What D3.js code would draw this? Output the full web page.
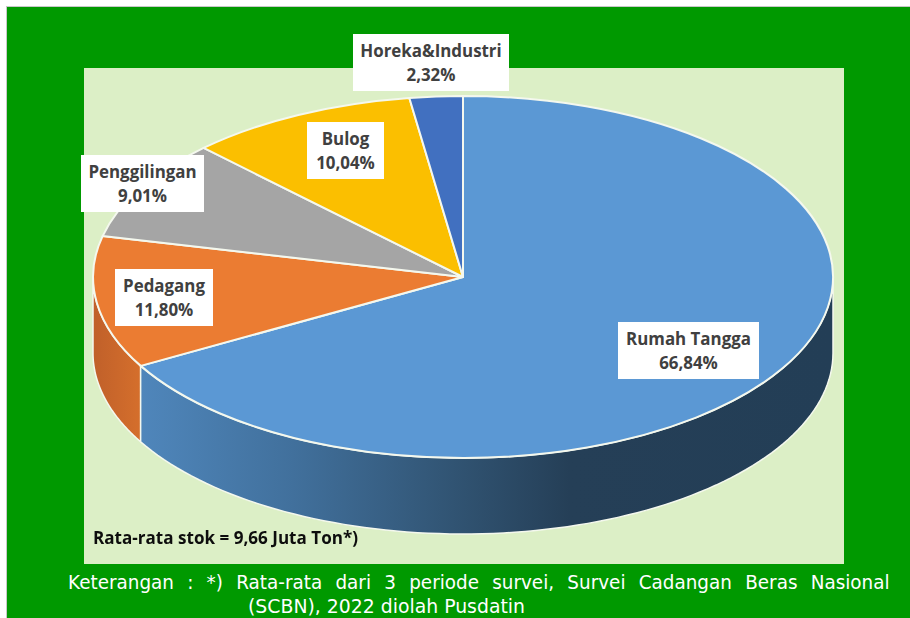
<!DOCTYPE html>
<html>
<head>
<meta charset="utf-8">
<script src="https://cdnjs.cloudflare.com/ajax/libs/d3/7.8.5/d3.min.js"></script>
<style>
html,body{margin:0;padding:0;background:#fff;overflow:hidden}
svg{display:block}
</style>
</head>
<body>
<script>
const categories = ["Rumah Tangga", "Pedagang", "Penggilingan", "Bulog", "Horeka&Industri"];
const shares = [66.84, 11.80, 9.01, 10.04, 2.32];
const shareLabels = ["66,84%", "11,80%", "9,01%", "10,04%", "2,32%"];
const sliceColors = ["#5b98d4", "#eb7c32", "#a5a5a5", "#fbbf00", "#4170c0"];
const stockNote = "Rata-rata stok = 9,66 Juta Ton*)";
const footnoteLine1 = "Keterangan : *) Rata-rata dari 3 periode survei, Survei Cadangan Beras Nasional";
const footnoteLine2 = "(SCBN), 2022 diolah Pusdatin";

const W = 910, H = 618;
const cx = 463, cy = 277, rx = 370, ry = 181, depth = 76;
// label box layout: [left, top, width]; box height is shared
const labelBoxes = [[618,322,141],[115,269,98],[81,155,123],[307,122,77],[353,34,156]];
const boxH = 57;

const svg = d3.select("body").append("svg").attr("width", W).attr("height", H);
const defs = svg.append("defs");

const blueGrad = defs.append("linearGradient").attr("id","sideBlue")
  .attr("gradientUnits","userSpaceOnUse").attr("x1",141).attr("x2",833).attr("y1",0).attr("y2",0);
[[0,"#4f86bb"],[0.22,"#41709c"],[0.45,"#315473"],[0.62,"#253f57"],[1,"#233e56"]]
  .forEach(s => blueGrad.append("stop").attr("offset",s[0]).attr("stop-color",s[1]));
const orangeGrad = defs.append("linearGradient").attr("id","sideOrange")
  .attr("gradientUnits","userSpaceOnUse").attr("x1",93).attr("x2",141).attr("y1",0).attr("y2",0);
[[0,"#c0602a"],[1,"#d56f2c"]]
  .forEach(s => orangeGrad.append("stop").attr("offset",s[0]).attr("stop-color",s[1]));
const blur = defs.append("filter").attr("id","soft").attr("x","-5%").attr("y","-20%").attr("width","110%").attr("height","140%");
blur.append("feGaussianBlur").attr("stdDeviation",0.35);

// panels
svg.append("rect").attr("x",6.5).attr("y",6.5).attr("width",W).attr("height",H)
  .attr("fill","#009900").attr("stroke","#c8c8c8").attr("stroke-width",1);
svg.append("rect").attr("x",84).attr("y",68).attr("width",760).attr("height",496).attr("fill","#dcefc6");

// pie geometry
const pie = d3.pie().value(d => d).sort(null);
const arcs = pie(shares);
const unitArc = d3.arc().innerRadius(0).outerRadius(1);
const px = d3.scaleLinear().domain([-1,1]).range([cx-rx,cx+rx]);
const py = d3.scaleLinear().domain([-1,1]).range([cy-ry,cy+ry]);
const onRim = a => [px(Math.sin(a)), py(-Math.cos(a))];

function wall(a0, a1) {
  const n = 90;
  const top = d3.range(n+1).map(i => onRim(a0 + (a1-a0)*i/n));
  const bottom = top.slice().reverse().map(p => [p[0], p[1]+depth]);
  return d3.line()(top.concat(bottom)) + "Z";
}

const g = svg.append("g");
const wallStroke = {stroke:"#f4f8ee", w:1.5};
// visible side walls: lower half of the rim only
g.append("path").attr("d", wall(arcs[0].endAngle, 1.5*Math.PI))
  .attr("fill","url(#sideOrange)").attr("stroke",wallStroke.stroke).attr("stroke-width",wallStroke.w);
g.append("path").attr("d", wall(Math.PI/2, arcs[0].endAngle))
  .attr("fill","url(#sideBlue)").attr("stroke",wallStroke.stroke).attr("stroke-width",wallStroke.w);

// top faces
g.append("g").attr("transform",`translate(${cx},${cy}) scale(${rx},${ry})`)
  .selectAll("path").data(arcs).join("path")
  .attr("d", unitArc)
  .attr("fill",(d,i) => sliceColors[i])
  .attr("stroke","#f4f8ee").attr("stroke-width",2)
  .attr("vector-effect","non-scaling-stroke")
  .attr("stroke-linejoin","round");

// labels
const lab = svg.append("g").attr("font-family","'Open Sans', 'Noto Sans', sans-serif")
  .attr("font-weight",700).attr("font-size",16.9).attr("fill","#404040").attr("text-anchor","middle");
categories.forEach((c,i) => {
  const b = labelBoxes[i];
  lab.append("rect").attr("x",b[0]).attr("y",b[1]).attr("width",b[2]).attr("height",boxH).attr("fill","#fff");
  lab.append("text").attr("x",b[0]+b[2]/2).attr("y",b[1]+22.5).text(c);
  lab.append("text").attr("x",b[0]+b[2]/2).attr("y",b[1]+47).text(shareLabels[i]);
});

// stock note
svg.append("text").attr("x",93).attr("y",544).attr("font-family","'Open Sans', sans-serif")
  .attr("font-weight",700).attr("font-size",18).attr("fill","#111")
  .attr("textLength",265).attr("lengthAdjust","spacingAndGlyphs").attr("filter","url(#soft)")
  .text(stockNote);

// footnote, justified line
const fn = svg.append("g").attr("font-family","'DejaVu Sans', sans-serif").attr("font-size",19.5).attr("fill","#fff");
const probe = fn.append("text").text("Keterangan");
const sx = 106 / probe.node().getComputedTextLength();
probe.remove();
const l1 = fn.append("text").attr("x",0).attr("y",0).text(footnoteLine1);
const natural = l1.node().getComputedTextLength();
const gaps = footnoteLine1.split(" ").length - 1;
// squeeze glyphs horizontally and widen word gaps to fill the line
l1.attr("transform",`translate(68,589) scale(${sx},1)`)
  .attr("word-spacing",(822/sx - natural)/gaps);
fn.append("text").attr("transform","translate(248,613)")
  .attr("textLength",277).attr("lengthAdjust","spacingAndGlyphs").text(footnoteLine2);
</script>
</body>
</html>
